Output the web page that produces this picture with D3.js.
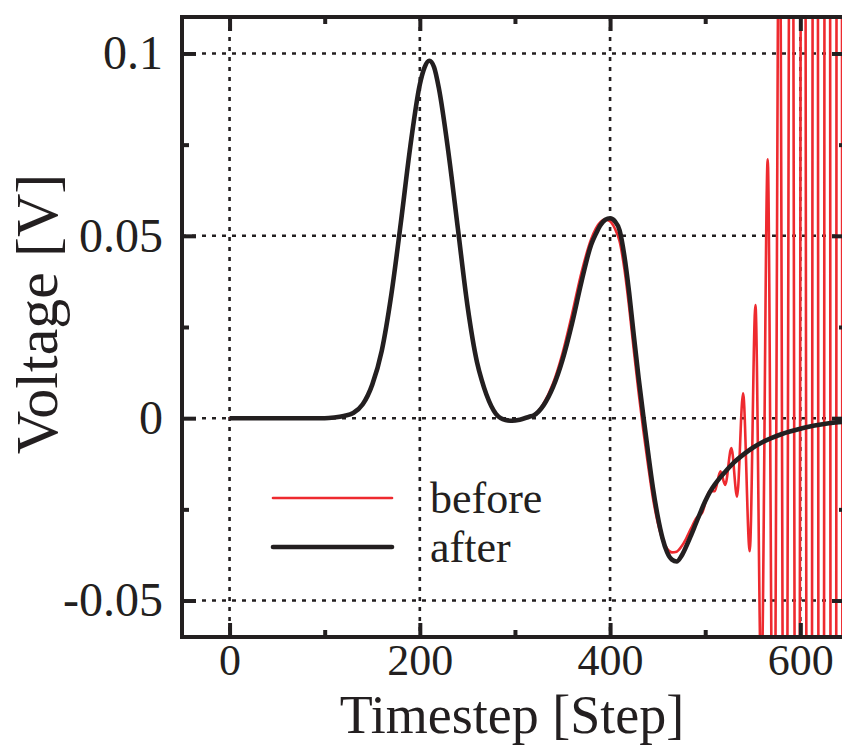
<!DOCTYPE html>
<html>
<head>
<meta charset="utf-8">
<script src="https://cdn.jsdelivr.net/npm/d3@7"></script>
<style>
  body { margin: 0; background: #fff; }
  text { font-family: "Liberation Serif", "Times New Roman", serif; fill: #231f20; }
</style>
</head>
<body>
<div id="chart"></div>
<script>
// "after" curve (black)
var afterStep = [0, 50, 100, 110, 120, 130, 140, 150, 160, 170, 180, 190, 200, 205, 210, 215, 220, 230, 240, 250, 260, 265, 270, 280, 285, 290, 297, 305, 315,
  320, 330, 340, 350, 360, 370, 380, 385, 390, 395, 400, 405, 410, 415, 420, 425, 430, 435, 440, 445, 450, 455, 460, 465, 470, 475, 480, 485, 490, 495, 500,
  505, 510, 515, 520, 530, 540, 550, 560, 570, 580, 590, 600, 610, 620, 630, 640, 648];
var afterVolt = [0, 0, 0, 0.0002, 0.0006, 0.0014, 0.0038, 0.0092, 0.0185, 0.0338, 0.0535, 0.0745, 0.0915, 0.0962, 0.0980, 0.0962, 0.0905, 0.0730, 0.0520, 0.0310, 0.0155, 0.0105, 0.0065, 0.0012, 0.0000, -0.0005, -0.0007, -0.0004, 0.0004,
  0.0008, 0.0035, 0.0085, 0.0160, 0.0260, 0.0375, 0.0475, 0.0505, 0.0530, 0.0544, 0.0548, 0.0540, 0.0515, 0.0445, 0.0345, 0.0225, 0.0110, 0.0005, -0.0095, -0.0190, -0.0268, -0.0328, -0.0368, -0.0388, -0.0393, -0.0378, -0.0352, -0.0322, -0.0290, -0.0258, -0.0228,
  -0.0202, -0.0182, -0.0165, -0.0150, -0.0122, -0.0100, -0.0081, -0.0066, -0.0054, -0.0044, -0.0036, -0.0029, -0.0023, -0.0018, -0.0014, -0.0011, -0.0009];

// "before" curve (red), oscillating at the end
var beforeStep = [0, 50, 100, 110, 120, 130, 140, 150, 160, 170, 180, 190, 200, 205, 210, 215, 220, 230, 240, 250, 260, 265, 270, 280, 285, 290, 297, 305, 315,
  320, 330, 340, 350, 360, 370, 380, 385, 390, 395, 400, 405, 410, 415, 420, 425, 430, 435, 440, 445, 450, 455, 460, 465, 470, 475, 480, 485, 490.8, 497, 504.4,
  510, 516, 521, 527.5, 533.5, 539.8, 546.8, 552.8, 559, 565.7, 572, 578, 584, 590.5, 597, 603, 609.5, 616, 622, 628.5, 635, 641, 647.5];
var beforeVolt = [0, 0, 0, 0.0002, 0.0006, 0.0014, 0.0038, 0.0092, 0.0185, 0.0338, 0.0535, 0.0745, 0.0915, 0.0962, 0.0980, 0.0962, 0.0905, 0.0730, 0.0520, 0.0310, 0.0155, 0.0105, 0.0065, 0.0012, 0.0000, -0.0005, -0.0007, -0.0004, 0.0004,
  0.0009, 0.0040, 0.0095, 0.0178, 0.0285, 0.0400, 0.0490, 0.0520, 0.0538, 0.0545, 0.0540, 0.0520, 0.0485, 0.0410, 0.0305, 0.0185, 0.0070, -0.0035, -0.0130, -0.0218, -0.0285, -0.0332, -0.0358, -0.0368, -0.0366, -0.0352, -0.0330, -0.0303, -0.0274, -0.0258, -0.0201,
  -0.0200, -0.0146, -0.0183, -0.0082, -0.0215, 0.0068, -0.0365, 0.0310, -0.0750, 0.0710, -0.1300, 0.1600, -0.2200, 0.2800, -0.3500, 0.4500, -0.5500, 0.7000, -0.8500, 1.0000, -1.2000, 1.4000, -1.6000];

var xMajor = [0, 200, 400, 600];
var xMinor = [100, 300, 500];
var yMajor = [-0.05, 0, 0.05, 0.1];
var yMinor = [-0.025, 0.025, 0.075];
var yTickText = ["-0.05", "0", "0.05", "0.1"];
var seriesNames = ["before", "after"];
var seriesColors = ["#ee2a2f", "#231f20"];

var width = 842, height = 747;
var plot = {left: 182, right: 846, top: 17, bottom: 637};

var svg = d3.select("#chart")
  .append("svg")
    .attr("width", width)
    .attr("height", height);

var x = d3.scaleLinear()
  .domain([-50, 648])
  .range([plot.left, plot.right]);

var y = d3.scaleLinear()
  .domain([-0.06, 0.11])
  .range([plot.bottom, plot.top]);

svg.append("defs").append("clipPath")
    .attr("id", "clip")
  .append("rect")
    .attr("x", plot.left)
    .attr("y", plot.top)
    .attr("width", plot.right - plot.left)
    .attr("height", plot.bottom - plot.top);

// dotted grid
svg.append("g").selectAll("line")
  .data(xMajor)
  .enter().append("line")
    .attr("x1", d => x(d)).attr("x2", d => x(d))
    .attr("y1", plot.top).attr("y2", plot.bottom)
    .attr("stroke", "#231f20")
    .attr("stroke-width", 2.6)
    .attr("stroke-dasharray", "4,6");

svg.append("g").selectAll("line")
  .data(yMajor)
  .enter().append("line")
    .attr("y1", d => y(d)).attr("y2", d => y(d))
    .attr("x1", plot.left).attr("x2", plot.right)
    .attr("stroke", "#231f20")
    .attr("stroke-width", 2.6)
    .attr("stroke-dasharray", "4,6");

// curves
var line = d3.line()
  .x(d => x(d[0]))
  .y(d => y(d[1]))
  .curve(d3.curveMonotoneX);

var before = d3.zip(beforeStep, beforeVolt);
var after = d3.zip(afterStep, afterVolt);

var curves = svg.append("g").attr("clip-path", "url(#clip)");

curves.append("path")
  .datum(before)
  .attr("d", line)
  .attr("fill", "none")
  .attr("stroke", seriesColors[0])
  .attr("stroke-width", 2.6)
  .attr("stroke-linejoin", "round");

curves.append("path")
  .datum(after)
  .attr("d", line)
  .attr("fill", "none")
  .attr("stroke", seriesColors[1])
  .attr("stroke-width", 4.6)
  .attr("stroke-linejoin", "round");

// axes, ticks inward on all four sides
function styleAxis(g) {
  g.select(".domain").remove();
  g.selectAll(".tick line").attr("stroke", "#231f20").attr("stroke-width", 4);
}

svg.append("g")
  .attr("transform", "translate(0," + plot.bottom + ")")
  .call(d3.axisBottom(x).tickValues(xMajor).tickSizeInner(-14).tickSizeOuter(0).tickPadding(7).tickFormat(d3.format("d")))
  .call(styleAxis)
  .selectAll("text")
    .style("font-size", "44px")
    .style("font-family", "'Liberation Serif', serif")
    .attr("fill", "#231f20");

svg.append("g")
  .attr("transform", "translate(0," + plot.bottom + ")")
  .call(d3.axisBottom(x).tickValues(xMinor).tickSizeInner(-7).tickSizeOuter(0).tickFormat(""))
  .call(styleAxis);

svg.append("g")
  .attr("transform", "translate(0," + plot.top + ")")
  .call(d3.axisTop(x).tickValues(xMajor).tickSizeInner(-14).tickSizeOuter(0).tickFormat(""))
  .call(styleAxis);

svg.append("g")
  .attr("transform", "translate(0," + plot.top + ")")
  .call(d3.axisTop(x).tickValues(xMinor).tickSizeInner(-7).tickSizeOuter(0).tickFormat(""))
  .call(styleAxis);

svg.append("g")
  .attr("transform", "translate(" + plot.left + ",0)")
  .call(d3.axisLeft(y).tickValues(yMajor).tickSizeInner(-14).tickSizeOuter(0).tickPadding(19)
    .tickFormat((d, i) => yTickText[i]))
  .call(styleAxis)
  .selectAll("text")
    .style("font-size", "48px")
    .style("font-family", "'Liberation Serif', serif")
    .attr("fill", "#231f20");

svg.append("g")
  .attr("transform", "translate(" + plot.left + ",0)")
  .call(d3.axisLeft(y).tickValues(yMinor).tickSizeInner(-7).tickSizeOuter(0).tickFormat(""))
  .call(styleAxis);

svg.append("g")
  .attr("transform", "translate(" + plot.right + ",0)")
  .call(d3.axisRight(y).tickValues(yMajor).tickSizeInner(-14).tickSizeOuter(0).tickFormat(""))
  .call(styleAxis);

svg.append("g")
  .attr("transform", "translate(" + plot.right + ",0)")
  .call(d3.axisRight(y).tickValues(yMinor).tickSizeInner(-7).tickSizeOuter(0).tickFormat(""))
  .call(styleAxis);

// frame
svg.append("rect")
  .attr("x", plot.left)
  .attr("y", plot.top)
  .attr("width", plot.right - plot.left)
  .attr("height", plot.bottom - plot.top)
  .attr("fill", "none")
  .attr("stroke", "#231f20")
  .attr("stroke-width", 4);

// axis titles
svg.append("text")
  .attr("x", 512)
  .attr("y", 733)
  .attr("text-anchor", "middle")
  .style("font-size", "54px")
  .text("Timestep [Step]");

svg.append("text")
  .attr("transform", "translate(57,314) rotate(-90)")
  .attr("text-anchor", "middle")
  .style("font-size", "60px")
  .text("Voltage [V]");

// legend
var legend = svg.append("g");
seriesNames.forEach(function(name, i) {
  var ly = 498 + i * 49;
  legend.append("line")
    .attr("x1", 273).attr("x2", 392)
    .attr("y1", ly).attr("y2", ly)
    .attr("stroke", seriesColors[i])
    .attr("stroke-width", i == 0 ? 2.6 : 4.6)
    .attr("stroke-linecap", "round");
  legend.append("text")
    .attr("x", 430)
    .attr("y", ly + 15)
    .style("font-size", "44px")
    .text(name);
});
</script>
</body>
</html>
